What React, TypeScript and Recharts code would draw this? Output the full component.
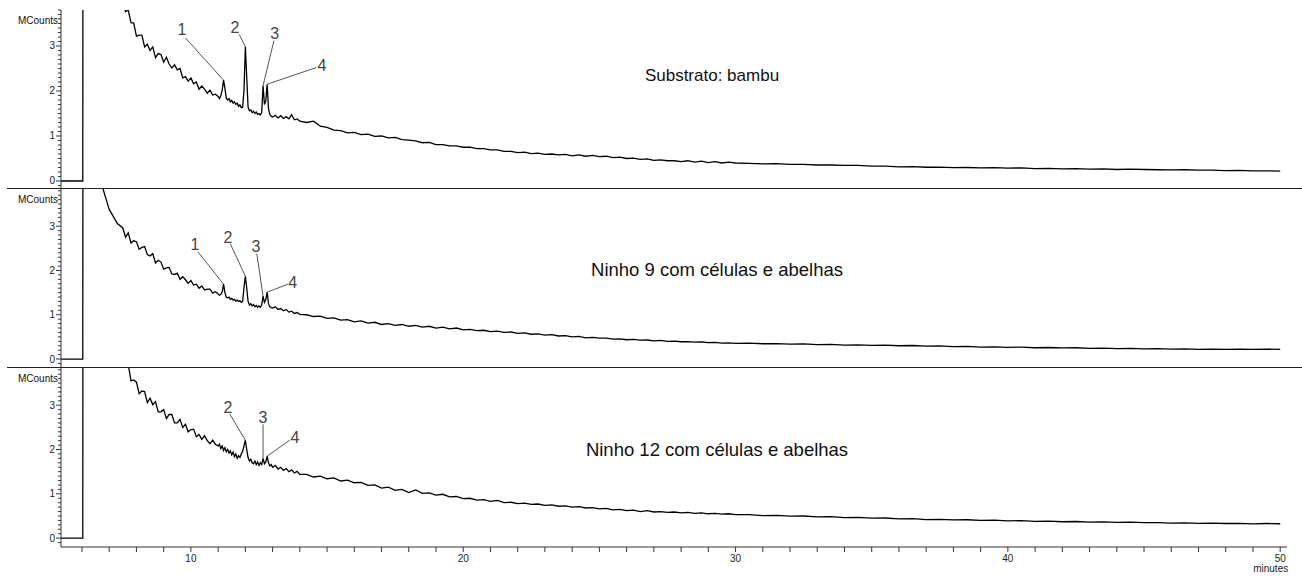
import React from "react";
import { LineChart, Line, XAxis, YAxis, ReferenceLine, ReferenceDot } from "recharts";

const font = "Arial, 'Liberation Sans', Helvetica, sans-serif";

// retention time (min) of every sample point, shared by the three runs
const minutes = [
  5.23, 6.03, 6.04, 6.5, 7.0, 7.3,
  7.5, 7.6, 7.7, 7.8, 7.9, 8.0, 8.1, 8.2, 8.3, 8.4, 8.5, 8.6, 8.7, 8.8, 8.9,
  9.0, 9.1, 9.2, 9.3, 9.4, 9.5, 9.6, 9.7, 9.8, 9.9, 10.0, 10.1, 10.2, 10.3, 10.4, 10.5, 10.6, 10.7, 10.8, 10.9,
  11.0, 11.05, 11.1, 11.15, 11.2, 11.25, 11.3, 11.35, 11.4, 11.45,
  11.5, 11.55, 11.6, 11.65, 11.7, 11.75, 11.8, 11.85, 11.9, 11.95,
  12.0, 12.05, 12.1, 12.15, 12.2, 12.25, 12.3, 12.35, 12.4, 12.45,
  12.5, 12.55, 12.6, 12.65, 12.7, 12.75, 12.8, 12.85, 12.9, 12.95,
  13.0, 13.1, 13.2, 13.3, 13.4, 13.5, 13.6, 13.7, 13.8, 13.9, 14.0,
  14.25, 14.5, 14.75, 15.0, 15.25, 15.5, 15.75, 16.0,
  16.25, 16.5, 16.75, 17.0, 17.25, 17.5, 17.75, 18.0,
  18.25, 18.5, 18.75, 19.0, 19.25, 19.5, 19.75, 20.0,
  20.25, 20.5, 20.75, 21.0, 21.25, 21.5, 21.75, 22.0,
  22.25, 22.5, 22.75, 23.0, 23.25, 23.5, 23.75, 24.0,
  24.25, 24.5, 24.75, 25.0, 25.25, 25.5, 25.75, 26.0,
  26.25, 26.5, 26.75, 27.0, 27.25, 27.5, 27.75, 28.0,
  28.25, 28.5, 28.75, 29.0, 29.25, 29.5, 29.75, 30.0,
  30.5, 31.0, 31.5, 32.0, 32.5, 33.0, 33.5, 34.0, 34.5, 35.0,
  35.5, 36.0, 36.5, 37.0, 37.5, 38.0, 38.5, 39.0, 39.5, 40.0,
  40.5, 41.0, 41.5, 42.0, 42.5, 43.0, 43.5, 44.0, 44.5, 45.0,
  45.5, 46.0, 46.5, 47.0, 47.5, 48.0, 48.5, 49.0, 49.5, 50.0,
];

// MCounts, bamboo substrate
const bambu = [
  0, 0, 12, 10, 5.2, 4.4,
  4.0, 3.76, 3.8, 3.52, 3.51, 3.22, 3.24, 3.24, 2.98, 3.04, 2.9, 2.98, 2.74, 2.83, 2.81,
  2.64, 2.75, 2.6, 2.51, 2.58, 2.47, 2.5, 2.29, 2.32, 2.22, 2.29, 2.16, 2.2, 2.04, 2.11, 2.04, 1.95, 2.02, 1.91, 1.93,
  1.88, 1.83, 1.9, 2.02, 2.24, 2.06, 1.84, 1.8, 1.83, 1.76,
  1.79, 1.73, 1.76, 1.7, 1.73, 1.66, 1.69, 1.63, 1.64, 2.02,
  2.98, 2.3, 1.64, 1.56, 1.58, 1.52, 1.55, 1.5, 1.53, 1.48,
  1.5, 1.47, 1.52, 2.12, 1.7, 1.78, 2.15, 1.6, 1.48, 1.44,
  1.42, 1.46, 1.4, 1.45, 1.39, 1.43, 1.38, 1.47, 1.36, 1.38, 1.33,
  1.3, 1.33, 1.22, 1.19, 1.13, 1.12, 1.07, 1.08,
  1.03, 1.04, 0.99, 1.0, 0.96, 0.97, 0.92, 0.91,
  0.89, 0.85, 0.86, 0.81, 0.81, 0.78, 0.78, 0.75,
  0.75, 0.72, 0.72, 0.69, 0.69, 0.66, 0.66, 0.63,
  0.64, 0.61, 0.62, 0.59, 0.6, 0.58, 0.59, 0.56,
  0.58, 0.55, 0.57, 0.54, 0.55, 0.52, 0.53, 0.5,
  0.51, 0.48, 0.49, 0.46, 0.47, 0.45, 0.45, 0.43,
  0.45, 0.42, 0.44, 0.41, 0.43, 0.4, 0.42, 0.4,
  0.39, 0.38, 0.385, 0.37, 0.37, 0.355, 0.355, 0.345, 0.345, 0.33,
  0.33, 0.315, 0.32, 0.305, 0.31, 0.295, 0.3, 0.29, 0.295, 0.285,
  0.29, 0.275, 0.28, 0.27, 0.275, 0.265, 0.27, 0.255, 0.265, 0.255,
  0.25, 0.245, 0.25, 0.24, 0.24, 0.23, 0.235, 0.225, 0.225, 0.22,
];

// MCounts, nest 9
const ninho9 = [
  0, 0, 12, 4.4, 3.38, 3.06,
  2.96, 2.75, 2.85, 2.62, 2.67, 2.65, 2.48, 2.52, 2.54, 2.36, 2.33, 2.38, 2.17, 2.23, 2.19,
  2.03, 2.06, 2.07, 1.92, 1.91, 1.94, 1.8, 1.86, 1.79, 1.71, 1.77, 1.67, 1.69, 1.6, 1.65, 1.56, 1.58, 1.58, 1.49, 1.52,
  1.47, 1.44, 1.46, 1.52, 1.69, 1.5, 1.4, 1.38, 1.4, 1.35,
  1.37, 1.33, 1.35, 1.31, 1.33, 1.3, 1.32, 1.28, 1.3, 1.62,
  1.87, 1.6, 1.3, 1.22, 1.25, 1.2, 1.23, 1.18, 1.21, 1.17,
  1.2, 1.17, 1.22, 1.42, 1.28, 1.34, 1.51, 1.25, 1.18, 1.16,
  1.15, 1.18, 1.12, 1.14, 1.09, 1.12, 1.06, 1.08, 1.03, 1.05, 1.01,
  1.0, 0.96, 0.97, 0.92, 0.93, 0.88, 0.89, 0.84,
  0.86, 0.81, 0.83, 0.78, 0.8, 0.76, 0.78, 0.74,
  0.76, 0.72, 0.74, 0.7, 0.72, 0.68, 0.7, 0.66,
  0.67, 0.64, 0.65, 0.62, 0.63, 0.6, 0.61, 0.58,
  0.59, 0.56, 0.57, 0.54, 0.55, 0.52, 0.53, 0.5,
  0.51, 0.48, 0.49, 0.47, 0.47, 0.45, 0.455, 0.435,
  0.445, 0.425, 0.43, 0.41, 0.42, 0.4, 0.405, 0.39,
  0.395, 0.38, 0.385, 0.37, 0.375, 0.36, 0.365, 0.355,
  0.36, 0.345, 0.35, 0.335, 0.34, 0.325, 0.33, 0.315, 0.32, 0.31,
  0.315, 0.3, 0.305, 0.29, 0.295, 0.28, 0.285, 0.27, 0.275, 0.265,
  0.27, 0.255, 0.26, 0.25, 0.255, 0.24, 0.245, 0.235, 0.24, 0.23,
  0.235, 0.225, 0.23, 0.22, 0.225, 0.218, 0.224, 0.216, 0.222, 0.22,
];

// MCounts, nest 12
const ninho12 = [
  0, 0, 12, 10, 6.2, 4.7,
  4.2, 3.94, 3.92, 3.55, 3.57, 3.52, 3.26, 3.32, 3.31, 3.06, 3.16, 3.01, 3.08, 2.85, 2.85,
  2.9, 2.7, 2.79, 2.79, 2.6, 2.6, 2.68, 2.5, 2.57, 2.4, 2.45, 2.46, 2.29, 2.34, 2.23, 2.31, 2.2, 2.13, 2.21, 2.12,
  2.08, 2.12, 2.02, 2.08, 1.98, 2.04, 1.95, 2.0, 1.92, 1.97,
  1.88, 1.94, 1.84, 1.9, 1.8, 1.86, 1.82, 1.9, 1.96, 2.08,
  2.21, 2.0, 1.82, 1.74, 1.78, 1.7, 1.68, 1.74, 1.66, 1.72,
  1.64, 1.7, 1.66, 1.8, 1.68, 1.72, 1.85, 1.7, 1.63, 1.66,
  1.6, 1.64, 1.56, 1.6, 1.53, 1.57, 1.5, 1.54, 1.47, 1.51, 1.44,
  1.44, 1.38, 1.4, 1.34, 1.36, 1.29, 1.31, 1.25,
  1.26, 1.19, 1.2, 1.13, 1.15, 1.08, 1.1, 1.03,
  1.09, 1.01, 1.02, 0.97, 0.99, 0.93, 0.94, 0.89,
  0.9, 0.86, 0.87, 0.83, 0.85, 0.8, 0.81, 0.78,
  0.79, 0.76, 0.77, 0.74, 0.75, 0.72, 0.73, 0.7,
  0.71, 0.68, 0.69, 0.66, 0.67, 0.64, 0.65, 0.62,
  0.63, 0.6, 0.62, 0.59, 0.6, 0.58, 0.59, 0.57,
  0.58, 0.56, 0.57, 0.55, 0.56, 0.54, 0.55, 0.53,
  0.53, 0.51, 0.515, 0.495, 0.5, 0.48, 0.485, 0.465, 0.47, 0.45,
  0.455, 0.435, 0.44, 0.42, 0.425, 0.41, 0.415, 0.4, 0.405, 0.39,
  0.395, 0.38, 0.385, 0.37, 0.375, 0.36, 0.365, 0.355, 0.36, 0.35,
  0.35, 0.34, 0.345, 0.335, 0.34, 0.33, 0.335, 0.32, 0.33, 0.325,
];

const countTicks = [
  -0.1, 0, 0.1, 0.2, 0.3, 0.4, 0.5, 0.6, 0.7, 0.8, 0.9, 1, 1.1, 1.2, 1.3, 1.4, 1.5, 1.6, 1.7, 1.8, 1.9,
  2, 2.1, 2.2, 2.3, 2.4, 2.5, 2.6, 2.7, 2.8, 2.9, 3, 3.1, 3.2, 3.3, 3.4, 3.5, 3.6, 3.7, 3.8,
];
const countLabels = ["0", "1", "2", "3"];

const minuteTicks = [
  6, 7, 8, 9, 10, 11, 12, 13, 14, 15, 16, 17, 18, 19, 20, 21, 22, 23, 24, 25, 26, 27, 28,
  29, 30, 31, 32, 33, 34, 35, 36, 37, 38, 39, 40, 41, 42, 43, 44, 45, 46, 47, 48, 49, 50,
];
const minuteLabels = ["10", "20", "30", "40", "50"];

type Peak = { name: string; time: number; label: [number, number]; from: [number, number] };

const bambuPeaks: Peak[] = [
  { name: "1", time: 11.2, label: [9.67, 3.36], from: [9.8, 3.18] },
  { name: "2", time: 12.0, label: [11.62, 3.42], from: [11.78, 3.25] },
  { name: "3", time: 12.65, label: [13.08, 3.29], from: [13.05, 3.12] },
  { name: "4", time: 12.8, label: [14.81, 2.58], from: [14.6, 2.52] },
];
const ninho9Peaks: Peak[] = [
  { name: "1", time: 11.2, label: [10.15, 2.6], from: [10.26, 2.42] },
  { name: "2", time: 12.0, label: [11.36, 2.76], from: [11.45, 2.6] },
  { name: "3", time: 12.65, label: [12.39, 2.55], from: [12.42, 2.38] },
  { name: "4", time: 12.8, label: [13.74, 1.74], from: [13.56, 1.69] },
];
const ninho12Peaks: Peak[] = [
  { name: "2", time: 12.0, label: [11.36, 2.96], from: [11.43, 2.8] },
  { name: "3", time: 12.65, label: [12.65, 2.73], from: [12.65, 2.57] },
  { name: "4", time: 12.8, label: [13.82, 2.28], from: [13.63, 2.21] },
];

const timeDomain: [number, number] = [5.23, 50.25];

function CountTick(props: any) {
  const { x, y, payload } = props;
  const major = countLabels.includes(String(payload.value));
  return (
    <g>
      <line x1={x - (major ? 5 : 3)} y1={y} x2={x} y2={y} stroke="#333" strokeWidth={1} />
      {major && (
        <text x={x - 6} y={y + 3.5} textAnchor="end" fontSize={10} fill="#222" fontFamily={font}>
          {payload.value}
        </text>
      )}
    </g>
  );
}

function MinuteTick(props: any) {
  const { x, y, payload } = props;
  const labelled = minuteLabels.includes(String(payload.value));
  return (
    <g>
      <line x1={x} y1={y} x2={x} y2={y + 5} stroke="#333" strokeWidth={1} />
      {labelled && (
        <text x={x} y={y + 15} textAnchor="middle" fontSize={10} fill="#222" fontFamily={font}>
          {payload.value}
        </text>
      )}
      {payload.value === 50 && (
        <text x={x + 8} y={y + 25} textAnchor="end" fontSize={10} fill="#222" fontFamily={font}>
          minutes
        </text>
      )}
    </g>
  );
}

type PanelProps = {
  values: number[];
  peaks: Peak[];
  domain: [number, number];
  top: number;
  height: number;
  marginTop: number;
  withTimeAxis?: boolean;
};

function Panel({ values, peaks, domain, top, height, marginTop, withTimeAxis }: PanelProps) {
  const rows = minutes.map((t, i) => ({ t, v: values[i] }));
  const valueAt = (t: number) => values[minutes.indexOf(t)];
  return (
    <div style={{ position: "absolute", left: 0, top }}>
      <LineChart width={1302} height={height} data={rows} margin={{ top: marginTop, right: 15, bottom: 0, left: 0 }}>
        <XAxis
          dataKey="t"
          type="number"
          domain={timeDomain}
          allowDataOverflow
          hide={!withTimeAxis}
          height={29}
          ticks={minuteTicks}
          interval={0}
          tickSize={0}
          tickMargin={0}
          tick={<MinuteTick />}
          axisLine={{ stroke: "#333" }}
        />
        <YAxis
          type="number"
          domain={domain}
          allowDataOverflow
          width={61}
          ticks={countTicks}
          interval={0}
          tickSize={0}
          tickMargin={0}
          tick={<CountTick />}
          axisLine={{ stroke: "#333" }}
        />
        <Line
          type="linear"
          dataKey="v"
          stroke="#000"
          strokeWidth={1.3}
          dot={false}
          isAnimationActive={false}
        />
        {peaks.map((p) => (
          <ReferenceLine
            key={"l" + p.name}
            segment={[
              { x: p.from[0], y: p.from[1] },
              { x: p.time, y: valueAt(p.time) },
            ]}
            stroke="#555"
            strokeWidth={1}
          />
        ))}
        {peaks.map((p) => (
          <ReferenceDot
            key={"d" + p.name}
            x={p.label[0]}
            y={p.label[1]}
            r={0}
            fill="none"
            stroke="none"
            ifOverflow="visible"
            label={{ value: p.name, position: "center", fontSize: 16, fill: "#444", fontFamily: font }}
          />
        ))}
      </LineChart>
    </div>
  );
}

export default function App() {
  return (
    <div style={{ position: "absolute", left: 0, top: 0, width: 1302, height: 576, background: "#fff", overflow: "hidden" }}>
      <Panel values={bambu} peaks={bambuPeaks} domain={[-0.156, 3.8]} top={0} height={188} marginTop={10} />
      <Panel values={ninho9} peaks={ninho9Peaks} domain={[-0.18, 3.84]} top={189} height={178} marginTop={0} />
      <Panel values={ninho12} peaks={ninho12Peaks} domain={[-0.2, 3.84]} top={368} height={208} marginTop={0} withTimeAxis />
      <div style={{ position: "absolute", left: 7, top: 188, width: 1295, height: 1, background: "#222" }} />
      <div style={{ position: "absolute", left: 7, top: 367, width: 1295, height: 1, background: "#222" }} />
      <svg width={1302} height={576} style={{ position: "absolute", left: 0, top: 0, pointerEvents: "none" }}>
        <g fontFamily={font} fill="#111">
          <text x={58} y={24} fontSize={10} textAnchor="end">MCounts</text>
          <text x={58} y={203} fontSize={10} textAnchor="end">MCounts</text>
          <text x={58} y={382} fontSize={10} textAnchor="end">MCounts</text>
          <text x={712} y={81} fontSize={17} textAnchor="middle">Substrato: bambu</text>
          <text x={717} y={276} fontSize={18.5} textAnchor="middle">Ninho 9 com células e abelhas</text>
          <text x={717} y={456} fontSize={18.5} textAnchor="middle">Ninho 12 com células e abelhas</text>
        </g>
      </svg>
    </div>
  );
}
